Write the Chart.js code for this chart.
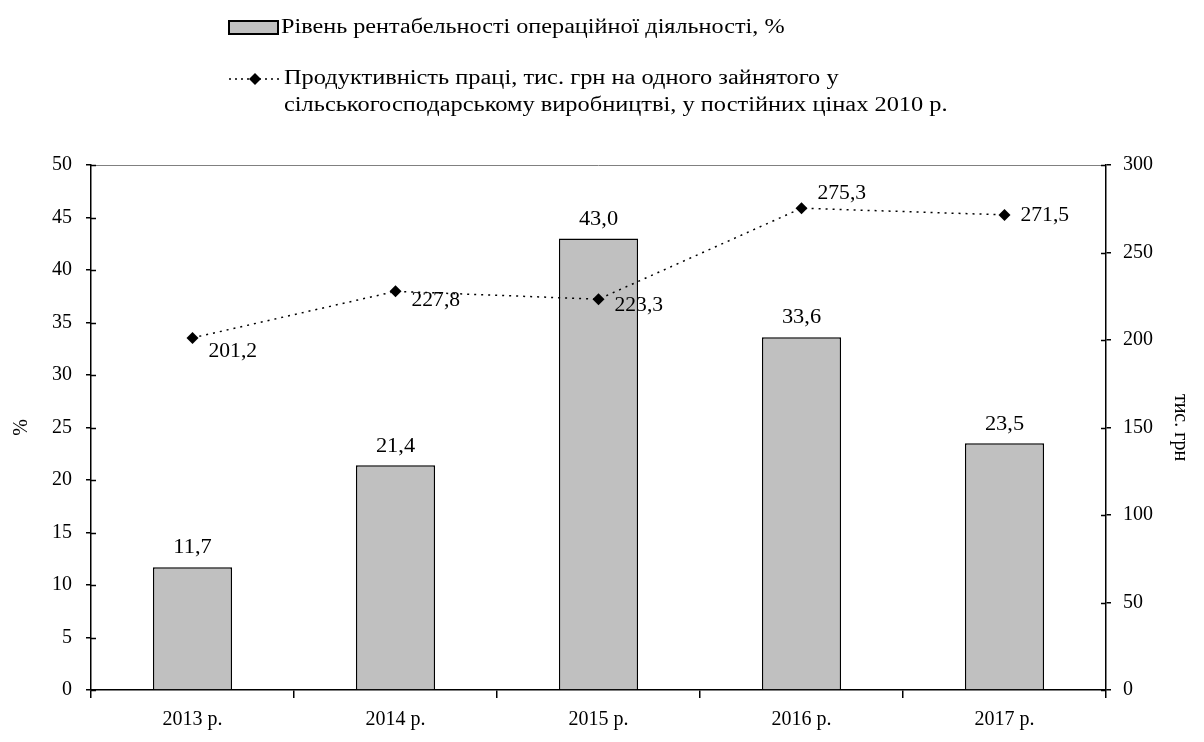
<!DOCTYPE html>
<html lang="uk">
<head>
<meta charset="utf-8">
<title>Рентабельність і продуктивність праці</title>
<script src="https://cdn.jsdelivr.net/npm/chart.js@4.4.1/dist/chart.umd.min.js"></script>
<style>
  html, body { margin: 0; padding: 0; background: #fff; }
  canvas { display: block; }
</style>
</head>
<body>
<canvas id="combo-chart" width="1204" height="742"></canvas>
<script>
// data
var years = ["2013 р.", "2014 р.", "2015 р.", "2016 р.", "2017 р."];
var profitability = [11.7, 21.4, 43.0, 33.6, 23.5];
var productivity = [201.2, 227.8, 223.3, 275.3, 271.5];

var barLabel = "Рівень рентабельності операційної діяльності, %";
var lineLabel = ["Продуктивність праці, тис. грн на одного зайнятого у",
                 "сільськогосподарському виробництві, у постійних цінах 2010 р."];

var serif = "'Liberation Serif', 'Times New Roman', serif";
var fontSize = 20;

function fmt(v) {
  return v.toFixed(1).replace('.', ',');
}

// the original text is a bit stretched sideways
function wideText(ctx, text, x, y, sx) {
  ctx.save();
  ctx.translate(x, y);
  ctx.scale(sx, 1);
  ctx.fillText(text, 0, 0);
  ctx.restore();
}

// number labels, legend, top frame line and inner half of the tick marks
var decorations = {
  id: 'decorations',
  afterDraw: function (chart) {
    var ctx = chart.ctx;
    var area = chart.chartArea;
    ctx.save();

    // top frame line
    ctx.strokeStyle = '#808080';
    ctx.lineWidth = 1;
    ctx.beginPath();
    ctx.moveTo(area.left, area.top + 0.5);
    ctx.lineTo(area.right, area.top + 0.5);
    ctx.stroke();

    // ticks crossing into the plot
    ctx.strokeStyle = '#000';
    ctx.lineWidth = 1.5;
    ['y', 'y1'].forEach(function (id) {
      var s = chart.scales[id];
      var ax = id === 'y' ? area.left : area.right;
      var dir = id === 'y' ? 1 : -1;
      s.ticks.forEach(function (t) {
        var py = Math.round(s.getPixelForValue(t.value)) + 0.5;
        ctx.beginPath();
        ctx.moveTo(ax, py);
        ctx.lineTo(ax + dir * 5, py);
        ctx.stroke();
      });
    });

    ctx.font = fontSize + 'px ' + serif;
    ctx.fillStyle = '#000';

    // bar values
    var barMeta = chart.getDatasetMeta(1);
    ctx.textAlign = 'center';
    ctx.textBaseline = 'middle';
    barMeta.data.forEach(function (bar, i) {
      wideText(ctx, fmt(profitability[i]), bar.x, bar.y - 19, 1.12);
    });

    // line values
    var lineMeta = chart.getDatasetMeta(0);
    var dy = [14, 9, 7, -14, 1];
    ctx.textAlign = 'left';
    lineMeta.data.forEach(function (pt, i) {
      wideText(ctx, fmt(productivity[i]), pt.x + 16, pt.y + dy[i], 1.08);
    });

    // legend
    ctx.fillStyle = '#c0c0c0';
    ctx.fillRect(229, 21, 49, 13);
    ctx.strokeStyle = '#000';
    ctx.lineWidth = 2;
    ctx.strokeRect(229, 21, 49, 13);
    ctx.fillStyle = '#000';
    wideText(ctx, barLabel, 281, 28, 1.21);

    ctx.lineWidth = 1.5;
    ctx.setLineDash([2, 4]);
    ctx.beginPath();
    ctx.moveTo(229, 79);
    ctx.lineTo(281, 79);
    ctx.stroke();
    ctx.setLineDash([]);
    ctx.beginPath();
    ctx.moveTo(255, 73);
    ctx.lineTo(261, 79);
    ctx.lineTo(255, 85);
    ctx.lineTo(249, 79);
    ctx.closePath();
    ctx.fill();
    wideText(ctx, lineLabel[0], 284, 79, 1.22);
    wideText(ctx, lineLabel[1], 284, 106, 1.22);

    ctx.restore();
  }
};

new Chart(document.getElementById('combo-chart'), {
  type: 'bar',
  data: {
    labels: years,
    datasets: [
      {
        type: 'line',
        label: lineLabel.join(' '),
        data: productivity,
        yAxisID: 'y1',
        borderColor: '#000',
        borderWidth: 1.5,
        borderDash: [2, 5],
        backgroundColor: '#000',
        pointStyle: 'rectRot',
        pointRadius: 6,
        pointBorderWidth: 0,
        fill: false,
        order: 0
      },
      {
        label: barLabel,
        data: profitability,
        yAxisID: 'y',
        backgroundColor: '#c0c0c0',
        borderColor: '#000',
        borderWidth: 1.5,
        barPercentage: 0.39,
        categoryPercentage: 1,
        order: 1
      }
    ]
  },
  options: {
    responsive: false,
    animation: false,
    layout: { padding: { top: 165, left: 0, right: 0, bottom: 0 } },
    plugins: {
      legend: { display: false },
      tooltip: { enabled: false }
    },
    scales: {
      x: {
        grid: { drawOnChartArea: false, tickLength: 8, color: '#000', lineWidth: 1.5 },
        border: { color: '#000', width: 1.5 },
        ticks: { color: '#000', font: { family: serif, size: fontSize }, padding: 10 },
        afterFit: function (s) { s.height = 52; }
      },
      y: {
        position: 'left',
        min: 0,
        max: 50,
        ticks: { stepSize: 5, color: '#000', font: { family: serif, size: fontSize }, padding: 14 },
        grid: { drawOnChartArea: false, tickLength: 5, color: '#000', lineWidth: 1.5 },
        border: { color: '#000', width: 1.5 },
        title: { display: true, text: '%', color: '#000', font: { family: serif, size: fontSize }, padding: { top: 10 } },
        afterFit: function (s) { s.width = 91; }
      },
      y1: {
        position: 'right',
        min: 0,
        max: 300,
        ticks: { stepSize: 50, color: '#000', font: { family: serif, size: fontSize }, padding: 12 },
        grid: { drawOnChartArea: false, tickLength: 5, color: '#000', lineWidth: 1.5 },
        border: { color: '#000', width: 1.5 },
        title: { display: true, text: 'тис. грн', color: '#000', font: { family: serif, size: fontSize }, padding: { top: 12 } },
        afterFit: function (s) { s.width = 98; }
      }
    }
  },
  plugins: [decorations]
});
</script>
</body>
</html>
